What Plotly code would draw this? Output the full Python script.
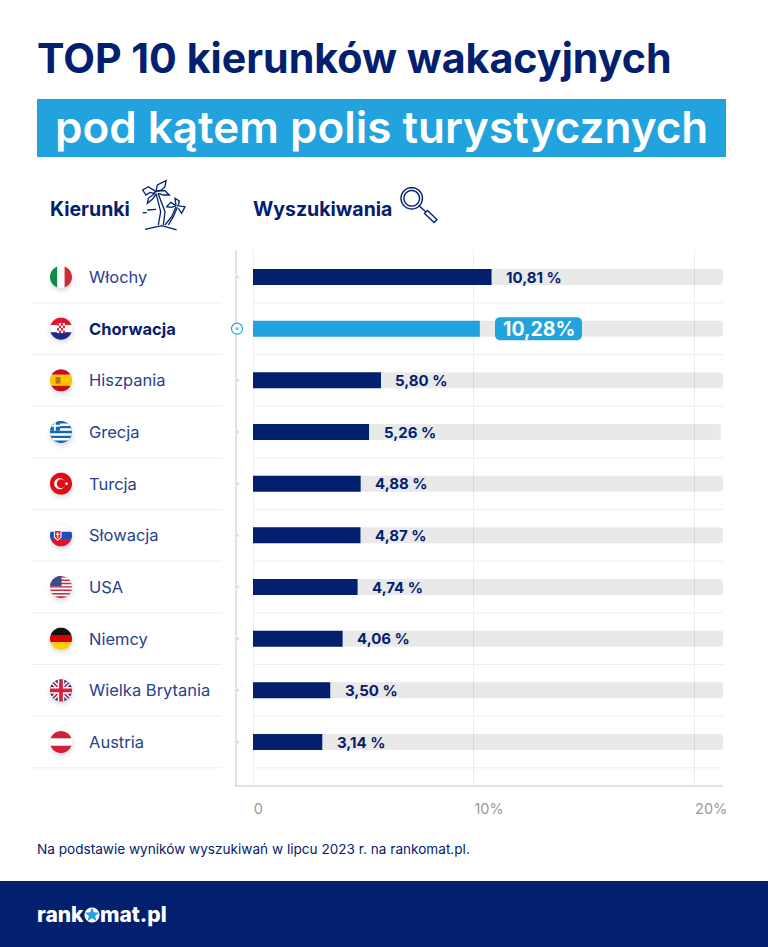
import numpy as np
import plotly.graph_objects as go

# data
countries = ['Włochy', 'Chorwacja', 'Hiszpania', 'Grecja', 'Turcja', 'Słowacja', 'USA', 'Niemcy', 'Wielka Brytania', 'Austria']
values = [10.81, 10.28, 5.80, 5.26, 4.88, 4.87, 4.74, 4.06, 3.50, 3.14]
value_labels = ['10,81 %', '10,28%', '5,80 %', '5,26 %', '4,88 %', '4,87 %', '4,74 %', '4,06 %', '3,50 %', '3,14 %']
track_values = [21.3, 21.3, 21.3, 21.2, 21.3, 21.3, 21.3, 21.3, 21.3, 21.3]
tick_vals = [0, 10, 20]
tick_text = ['0', '10%', '20%']

W, H = 768, 947
NAVY = '#03206f'
BLUE = '#22a3de'
TEXT = '#2a418f'
FONT = 'Inter'
X_MIN, X_MAX = -0.725, 21.3
ROW0, ROWH = 277, 51.67
HILITE = 1

shapes = []
annots = []


def px(x, y):
    return x / W, 1 - y / H


def path_of(pts, close=True):
    p = [px(a, b) for a, b in pts]
    s = 'M' + ' L'.join('%.5f,%.5f' % q for q in p)
    return s + (' Z' if close else '')


def fill(pts, color, layer='above'):
    shapes.append(dict(type='path', path=path_of(pts), xref='paper', yref='paper',
                       fillcolor=color, line=dict(width=0), layer=layer))


def stroke(pts, color=NAVY, width=1.3, close=False, layer='above'):
    shapes.append(dict(type='path', path=path_of(pts, close), xref='paper', yref='paper',
                       line=dict(color=color, width=width), layer=layer))


def circle_pts(cx, cy, r, n=48):
    t = np.linspace(0, 2 * np.pi, n, endpoint=False)
    return list(zip(cx + r * np.cos(t), cy + r * np.sin(t)))


def text(x, y, s, size, color=NAVY, weight=400, anchor='left'):
    xp, yp = px(x, y)
    annots.append(dict(x=xp, y=yp, xref='paper', yref='paper', text=s, showarrow=False,
                       xanchor=anchor, yanchor='middle', borderpad=0,
                       font=dict(family=FONT, size=size, color=color, weight=weight)))


# flags: shapes in unit coords, pulled back on to the circle
def flag_poly(cx, cy, r, pts, color):
    pts = np.array(pts + [pts[0]], dtype=float)
    dense = []
    for a, b in zip(pts[:-1], pts[1:]):
        for t in np.linspace(0, 1, 14, endpoint=False):
            q = a + (b - a) * t
            d = np.hypot(*q)
            if d > 1:
                q = q / d
            dense.append((cx + r * q[0], cy + r * q[1]))
    fill(dense, color)


def rect(x0, y0, x1, y1):
    return [(x0, y0), (x1, y0), (x1, y1), (x0, y1)]


def diag(a, b, c, d, w):
    v = np.array([c - a, d - b], dtype=float)
    n = np.array([-v[1], v[0]]) / np.hypot(*v) * w
    return [(a + n[0], b + n[1]), (c + n[0], d + n[1]), (c - n[0], d - n[1]), (a - n[0], b - n[1])]


def draw_flag(name, cx, cy, r):
    for k, a in zip([15, 13, 11.5, 10], [0.02, 0.03, 0.04, 0.05]):
        fill(circle_pts(cx + 0.5, cy + 2.5, k), 'rgba(40,40,60,%s)' % a)
    f = lambda pts, c: flag_poly(cx, cy, r, pts, c)
    if name == 'Włochy':
        f(rect(-1, -1, -.33, 1), '#0c8c45')
        f(rect(-.33, -1, .33, 1), '#ffffff')
        f(rect(.33, -1, 1, 1), '#cd2b37')
    elif name == 'Chorwacja':
        f(rect(-1, -1, 1, -.33), '#e3122d')
        f(rect(-1, -.33, 1, .33), '#ffffff')
        f(rect(-1, .33, 1, 1), '#1c2a8c')
        f(rect(-.36, -.5, .36, .4), '#ffffff')
        for i in range(4):
            for j in range(4):
                if (i + j) % 2 == 0:
                    f(rect(-.36 + i * .18, -.5 + j * .225, -.18 + i * .18, -.275 + j * .225), '#d9213a')
    elif name == 'Hiszpania':
        f(rect(-1, -1, 1, -.5), '#c60b1e')
        f(rect(-1, -.5, 1, .5), '#ffc400')
        f(rect(-1, .5, 1, 1), '#c60b1e')
        f(rect(-.5, -.3, -.05, .3), '#b5702c')
    elif name == 'Grecja':
        f(rect(-1, -1, 1, 1), '#1467b8')
        for k in range(1, 9, 2):
            f(rect(-1, -1 + k * 2 / 9, 1, -1 + (k + 1) * 2 / 9), '#ffffff')
        f(rect(-1, -1, -.1, -.11), '#1467b8')
        f(rect(-1, -.65, -.1, -.47), '#ffffff')
        f(rect(-.65, -1, -.47, -.11), '#ffffff')
    elif name == 'Turcja':
        f(rect(-1, -1, 1, 1), '#e30a17')
        fill(circle_pts(cx - .12 * r, cy, .5 * r), '#ffffff')
        fill(circle_pts(cx + .02 * r, cy, .4 * r), '#e30a17')
        fill(circle_pts(cx + .5 * r, cy, .14 * r, 5), '#ffffff')
    elif name == 'Słowacja':
        f(rect(-1, -1, 1, -.33), '#ffffff')
        f(rect(-1, -.33, 1, .33), '#1d4fb5')
        f(rect(-1, .33, 1, 1), '#e3122d')
        f([(-.65, -.5), (.05, -.5), (.05, .2), (-.3, .5), (-.65, .2)], '#ffffff')
        f([(-.55, -.4), (-.05, -.4), (-.05, .15), (-.3, .38), (-.55, .15)], '#e3122d')
        f(rect(-.35, -.3, -.25, .25), '#ffffff')
        f(rect(-.47, -.15, -.13, -.05), '#ffffff')
    elif name == 'USA':
        for k in range(13):
            f(rect(-1, -1 + k * 2 / 13, 1, -1 + (k + 1) * 2 / 13), '#c8304a' if k % 2 == 0 else '#ffffff')
        f(rect(-1, -1, .05, -.08), '#3c4a86')
    elif name == 'Niemcy':
        f(rect(-1, -1, 1, -.33), '#111111')
        f(rect(-1, -.33, 1, .33), '#dd0000')
        f(rect(-1, .33, 1, 1), '#ffce00')
    elif name == 'Wielka Brytania':
        f(rect(-1, -1, 1, 1), '#1c3578')
        f(diag(-1, -1, 1, 1, .2), '#ffffff')
        f(diag(-1, 1, 1, -1, .2), '#ffffff')
        f(diag(-1, -1, 1, 1, .08), '#d5213f')
        f(diag(-1, 1, 1, -1, .08), '#d5213f')
        f(rect(-.3, -1, .3, 1), '#ffffff')
        f(rect(-1, -.3, 1, .3), '#ffffff')
        f(rect(-.17, -1, .17, 1), '#d5213f')
        f(rect(-1, -.17, 1, .17), '#d5213f')
    elif name == 'Austria':
        f(rect(-1, -1, 1, -.33), '#d3203a')
        f(rect(-1, -.33, 1, .33), '#ffffff')
        f(rect(-1, .33, 1, 1), '#d3203a')


def star_pts(cx, cy, r1, r2):
    t = -np.pi / 2 + np.arange(10) * np.pi / 5
    rr = np.where(np.arange(10) % 2 == 0, r1, r2)
    return list(zip(cx + rr * np.cos(t), cy + rr * np.sin(t)))


# footer + title band
fill([(0, 881), (W, 881), (W, H), (0, H)], '#03206f', 'below')
fill([(37, 99), (726, 99), (726, 157), (37, 157)], BLUE, 'below')

text(36, 58, 'TOP 10 kierunków wakacyjnych', 41.2, NAVY, 700)
text(54, 127, 'pod kątem polis turystycznych', 44, '#ffffff', 600)
text(49, 209, 'Kierunki', 19.5, NAVY, 700)
text(252, 209, 'Wyszukiwania', 19.5, NAVY, 700)
text(36, 849, 'Na podstawie wyników wyszukiwań w lipcu 2023 r. na rankomat.pl.', 13.6, NAVY, 400)

# logo
text(35.5, 914, 'rank', 21, '#ffffff', 800)
text(99, 914, 'mat.pl', 21, '#ffffff', 800)
fill(circle_pts(92, 915, 7.5), '#ffffff')
fill(star_pts(92, 915, 7.5, 3.3), BLUE)

# palm icon
def palm(pts):
    stroke([(130 + a / 3, 175 + b / 3) for a, b in pts])


palm([(85, 150), (92, 110), (78, 55)])
palm([(100, 150), (105, 110), (84, 55)])
palm([(78, 50), (55, 35), (38, 45), (48, 60), (60, 52), (70, 55), (78, 50)])
palm([(78, 50), (82, 30), (108, 17), (105, 35), (95, 45), (78, 50)])
palm([(75, 55), (55, 70), (52, 85), (68, 72), (78, 58)])
palm([(82, 48), (105, 47), (118, 60), (100, 60), (85, 55)])
palm([(105, 150), (125, 125), (138, 95)])
palm([(115, 150), (130, 125), (142, 97)])
palm([(138, 92), (122, 82), (110, 95), (125, 97), (138, 92)])
palm([(138, 92), (135, 70), (148, 78), (145, 90)])
palm([(140, 92), (165, 95), (155, 115), (145, 100)])
palm([(45, 163), (95, 152), (140, 165)])
palm([(38, 113), (50, 113)])
palm([(52, 105), (78, 103)])

# magnifier icon
stroke(circle_pts(411.7, 198.3, 10.7), NAVY, 1.4, close=True)
stroke(circle_pts(411.7, 198.3, 7.8), NAVY, 1.4, close=True)
stroke([(419.3, 205.9), (426, 212)], NAVY, 1.4)
stroke([(425.5, 211.5), (436, 221.5)], NAVY, 5.5)
stroke([(426.5, 212.5), (435, 220.6)], '#ffffff', 2.8)

# rows: flags, names, separators
for i, name in enumerate(countries):
    yc = ROW0 + ROWH * i
    draw_flag(name, 61, yc, 11)
    bold = i == HILITE
    text(88, yc, name, 16.5, NAVY if bold else TEXT, 700 if bold else 400)
    ys = yc + ROWH / 2
    shapes.append(dict(type='line', xref='paper', yref='paper', layer='below',
                       x0=32 / W, x1=222 / W, y0=1 - ys / H, y1=1 - ys / H,
                       line=dict(color='#eeeeee', width=1)))
    shapes.append(dict(type='line', xref='paper', yref='paper', layer='below',
                       x0=253 / W, x1=723 / W, y0=1 - ys / H, y1=1 - ys / H,
                       line=dict(color='#eeeeee', width=1)))

# pill behind the highlighted value
x_hi = 495
y_hi = ROW0 + ROWH * HILITE
rad = 5
t = np.linspace(0, np.pi / 2, 6)
pill = []
for (ax, ay, start) in [(582 - rad, y_hi - 11.5 + rad, -np.pi / 2), (582 - rad, y_hi + 11.5 - rad, 0),
                        (x_hi + rad, y_hi + 11.5 - rad, np.pi / 2), (x_hi + rad, y_hi - 11.5 + rad, np.pi)]:
    pill += list(zip(ax + rad * np.cos(start + t), ay + rad * np.sin(start + t)))
fill(pill, BLUE)
text(538.5, y_hi + 0.5, value_labels[HILITE], 19.5, '#ffffff', 700, 'center')

for i, lab in enumerate(value_labels):
    if i != HILITE:
        annots.append(dict(x=values[i], y=countries[i], xref='x', yref='y', text=lab, showarrow=False,
                           xanchor='left', yanchor='middle', xshift=12.5,
                           font=dict(family=FONT, size=15, color=NAVY, weight=700)))

bar_colors = [BLUE if i == HILITE else NAVY for i in range(len(values))]
dot_colors = ['#d9d9d9' for c in countries]
dot_colors[HILITE] = BLUE
dot_sizes = [5 for c in countries]
dot_sizes[HILITE] = 4

fig = go.Figure()
fig.add_trace(go.Bar(y=countries, x=track_values, orientation='h', width=0.31, hoverinfo='skip',
                     marker=dict(color='rgba(0,0,0,0.085)', line=dict(width=0))))
fig.add_trace(go.Bar(y=countries, x=values, orientation='h', width=0.31,
                     marker=dict(color=bar_colors, line=dict(width=0))))
# ring under the highlighted marker, then the markers on the left axis line
fig.add_trace(go.Scatter(y=[countries[HILITE]], x=[X_MIN], mode='markers', cliponaxis=False, hoverinfo='skip',
                         marker=dict(color='white', size=11, line=dict(color=BLUE, width=1.2))))
fig.add_trace(go.Scatter(y=countries, x=[X_MIN] * len(countries), mode='markers', cliponaxis=False,
                         marker=dict(color=dot_colors, size=dot_sizes), hoverinfo='skip'))

fig.update_layout(
    width=W, height=H, margin=dict(l=0, r=0, t=0, b=0, autoexpand=False), paper_bgcolor='white', plot_bgcolor='white',
    barmode='overlay', barcornerradius=3, showlegend=False, shapes=shapes, annotations=annots,
    xaxis=dict(domain=[237 / W, 723 / W], range=[X_MIN, X_MAX], tickvals=tick_vals, ticktext=tick_text,
               showgrid=True, gridcolor='#eeeeee', gridwidth=1, zeroline=False, showline=True, automargin=False,
               linecolor='#e2e2e2', linewidth=1.5, ticks='', ticklabelposition='outside right', ticklabelstandoff=10,
               tickfont=dict(family=FONT, size=14.5, color='#9a9a9a')),
    yaxis=dict(domain=[1 - 785 / H, 1 - 250 / H], autorange=False, categoryorder='array', automargin=False,
               categoryarray=countries, range=[9 + 43 / ROWH, -27 / ROWH], showticklabels=False, layer='below traces',
               showgrid=False, zeroline=False, showline=True, linecolor='#e2e2e2', linewidth=1.5, ticks=''),
)

fig.write_html('out.html', config={'displayModeBar': False},
               post_script="document.body.style.margin='0';")
